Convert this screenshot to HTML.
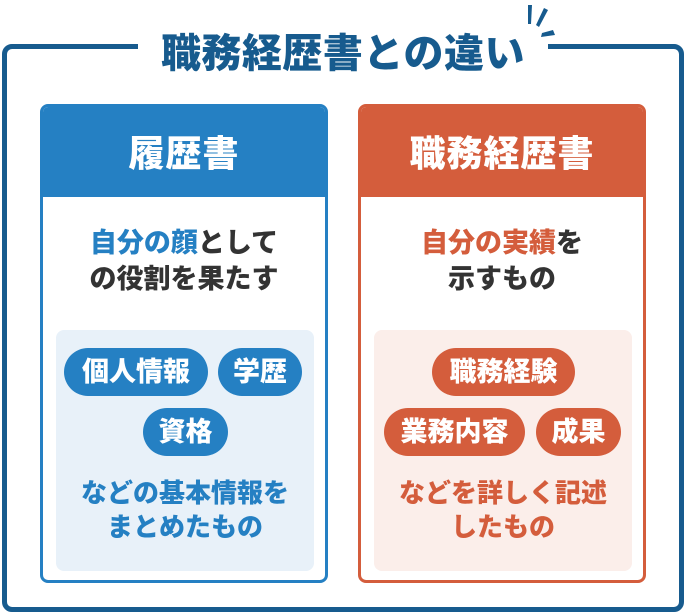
<!DOCTYPE html>
<html><head><meta charset="utf-8"><style>
*{margin:0;padding:0;box-sizing:border-box}
body{width:686px;height:614px;background:#fff;position:relative;overflow:hidden;font-family:"Liberation Sans","Noto Sans CJK JP",sans-serif;font-weight:900}
.frame{position:absolute;left:2px;top:44px;width:682px;height:568px;border:5px solid #175b8e;border-radius:10px}
.gap{position:absolute;left:138px;top:38px;width:410px;height:16px;background:#fff}
.title{position:absolute;left:138px;width:410px;top:28px;text-align:center;font-size:40px;color:#175b8e;line-height:52px;letter-spacing:0.5px}
.card{position:absolute;top:104px;width:288px;height:479px;border:3px solid;border-radius:8px;background:#fff;overflow:hidden}
.hd{height:90px;color:#fff;font-size:36px;text-align:center;line-height:94px;letter-spacing:1px}
.lead{position:absolute;top:118px;left:0;right:0;text-align:center;font-size:27px;line-height:36px;color:#333}
.inner{position:absolute;left:13px;top:223px;width:258px;height:241px;border-radius:8px}
.pill{position:absolute;height:48px;border-radius:24px;color:#fff;font-size:27px;line-height:48px;text-align:center;letter-spacing:0}
.foot{position:absolute;left:-10px;right:-10px;top:146px;text-align:center;font-size:26px;line-height:34px}
.b{border-color:#2580c3}.b .hd{background:#2580c3}.b .inner{background:#e8f1f9}.b .pill{background:#2580c3}.b .foot,.b em{color:#2580c3}
.o{border-color:#d45d3c}.o .hd{background:#d45d3c}.o .inner{background:#fbeeea}.o .pill{background:#d45d3c}.o .foot,.o em{color:#d45d3c}
em{font-style:normal}
</style></head><body>
<div class="frame"></div>
<div class="gap"></div>
<div class="title">職務経歴書との違い</div>
<svg style="position:absolute;left:515px;top:0" width="45" height="42"><g fill="#175b8e"><polygon points="13,5 17,5 16,24 13,24"/><polygon points="29,8 33,10 24,27 21,25"/><polygon points="38,30 40,35 26,37 27,33"/></g></svg>
<div class="card b" style="left:40px">
<div class="hd">履歴書</div>
<div class="lead"><em>自分の顔</em>として<br>の役割を果たす</div>
<div class="inner">
<div class="pill" style="left:8px;top:18px;width:144px">個人情報</div>
<div class="pill" style="left:162px;top:18px;width:84px">学歴</div>
<div class="pill" style="left:87px;top:78px;width:85px">資格</div>
<div class="foot">などの基本情報を<br>まとめたもの</div>
</div></div>
<div class="card o" style="left:358px">
<div class="hd">職務経歴書</div>
<div class="lead"><em>自分の実績</em>を<br>示すもの</div>
<div class="inner">
<div class="pill" style="left:58px;top:18px;width:143px">職務経験</div>
<div class="pill" style="left:10px;top:78px;width:141px">業務内容</div>
<div class="pill" style="left:162px;top:78px;width:85px">成果</div>
<div class="foot">などを詳しく記述<br>したもの</div>
</div></div>
</body></html>
